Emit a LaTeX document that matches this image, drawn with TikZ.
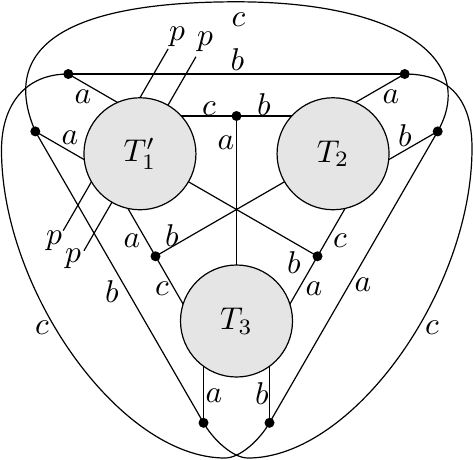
\documentclass[tikz,border=0pt]{standalone}
\usepackage{graphicx}
\usetikzlibrary{backgrounds}
\definecolor{cfill}{HTML}{E5E5E5}
\newcommand{\lbltxt}[1]{\scalebox{3.15}{$#1$}}
\begin{document}
\begin{tikzpicture}[x=1pt,y=-1pt,line width=1.2pt,
  tcirc/.style={circle,draw,fill=cfill,line width=1.2pt,minimum size=112pt,inner sep=0pt},
  dot/.style={circle,fill,inner sep=0pt,minimum size=10pt},
  lab/.style={inner sep=0pt},
  wire/.style={line width=1.2pt}]
\useasboundingbox (0,0) rectangle (473,459);
% circles
\node[tcirc] (T1) at (139.94,153.75) {\lbltxt{T_1'}};
\node[tcirc] (T2) at (333.06,153.75) {\lbltxt{T_2}};
\node[tcirc] (T3) at (236.5,321) {\lbltxt{T_3}};
% dots
\node[dot] (TL) at (68.3,74) {};
\node[dot] (TR) at (404.7,74) {};
\node[dot] (L) at (35.3,131.4) {};
\node[dot] (R) at (437.7,131.4) {};
\node[dot] (BL) at (203.5,422.8) {};
\node[dot] (BR) at (269.5,422.8) {};
\node[dot] (M) at (236.5,116) {};
\node[dot] (ML) at (155.5,256.25) {};
\node[dot] (MR) at (317.5,256.25) {};
% hidden end points (under the circles)
\coordinate (hTL) at (156.6,125);
\coordinate (hL) at (122.8,181.9);
\coordinate (hTR) at (316.4,125);
\coordinate (hR) at (350.2,181.9);
\coordinate (hBL) at (203.5,321);
\coordinate (hBR) at (269.5,321);
\coordinate (hM1) at (139.94,116);
\coordinate (hM2) at (333.06,116);
\coordinate (hML1) at (107.25,172.7);
\coordinate (hML3) at (203.75,339.8);
\coordinate (hMR2) at (365.75,172.7);
\coordinate (hMR3) at (269.25,339.8);
\coordinate (p1a) at (168.19,48.82);
\coordinate (p1b) at (63.19,230.68);
\coordinate (p2a) at (195.94,56.75);
\coordinate (p2b) at (83.94,250.75);
% labels
\node[lab] (lc0) at (238.5,20) {\lbltxt{c}};
\node[lab] (lb0) at (237.5,60) {\lbltxt{b}};
\node[lab] (la1) at (83,97) {\lbltxt{a}};
\node[lab] (la2) at (70,138) {\lbltxt{a}};
\node[lab] (lc1) at (209,109) {\lbltxt{c}};
\node[lab] (la3) at (226,143) {\lbltxt{a}};
\node[lab] (lb1) at (264,105) {\lbltxt{b}};
\node[lab] (la4) at (391,97) {\lbltxt{a}};
\node[lab] (lb2) at (405,136) {\lbltxt{b}};
\node[lab] (lp1) at (177,37) {\lbltxt{p}};
\node[lab] (lp2) at (205,42) {\lbltxt{p}};
\node[lab] (lp3) at (54,241) {\lbltxt{p}};
\node[lab] (lp4) at (73,259) {\lbltxt{p}};
\node[lab] (la5) at (132,241) {\lbltxt{a}};
\node[lab] (lb3) at (172,236) {\lbltxt{b}};
\node[lab] (lc2) at (162,289) {\lbltxt{c}};
\node[lab] (lb4) at (112,292) {\lbltxt{b}};
\node[lab] (lc3) at (42,328) {\lbltxt{c}};
\node[lab] (la6) at (214,396) {\lbltxt{a}};
\node[lab] (lc4) at (340,241) {\lbltxt{c}};
\node[lab] (lb5) at (294,263) {\lbltxt{b}};
\node[lab] (la7) at (314,289) {\lbltxt{a}};
\node[lab] (la8) at (363,285) {\lbltxt{a}};
\node[lab] (lc5) at (432,328) {\lbltxt{c}};
\node[lab] (lb6) at (262,394) {\lbltxt{b}};
\begin{scope}[on background layer,every path/.style={wire}]
  % outer straight lines
  \draw (TL.center) -- (TR.center);
  \draw (L.center) -- (BL.center);
  \draw (R.center) -- (BR.center);
  % dots to circles
  \draw (TL.center) -- (hTL);
  \draw (L.center) -- (hL);
  \draw (TR.center) -- (hTR);
  \draw (R.center) -- (hR);
  \draw (BL.center) -- (hBL);
  \draw (BR.center) -- (hBR);
  % inner lines
  \draw (hM1) -- (M.center) -- (hM2);
  \draw (M.center) -- (T3.center);
  \draw (hML1) -- (ML.center) -- (hML3);
  \draw (ML.center) -- (T2.center);
  \draw (hMR2) -- (MR.center) -- (hMR3);
  \draw (MR.center) -- (T1.center);
  % p lines
  \draw (p1a) -- (p1b);
  \draw (p2a) -- (p2b);
  % loops
  \draw (L.center) .. controls (-4,40) and (80,1.8) .. (236.5,1.8)
        .. controls (400,1.8) and (478,60) .. (R.center);
  \draw (TL.center) .. controls (25,74) and (1.5,105) .. (1.5,150)
        .. controls (1.5,290) and (120,458) .. (225,458)
        .. controls (240,458) and (259.5,440.1) .. (BR.center);
  \draw (TR.center) .. controls (450,74) and (472,100) .. (472,148)
        .. controls (472,290) and (353,458) .. (248,458)
        .. controls (233,458) and (213.5,440.1) .. (BL.center);
\end{scope}
\end{tikzpicture}
\end{document}
